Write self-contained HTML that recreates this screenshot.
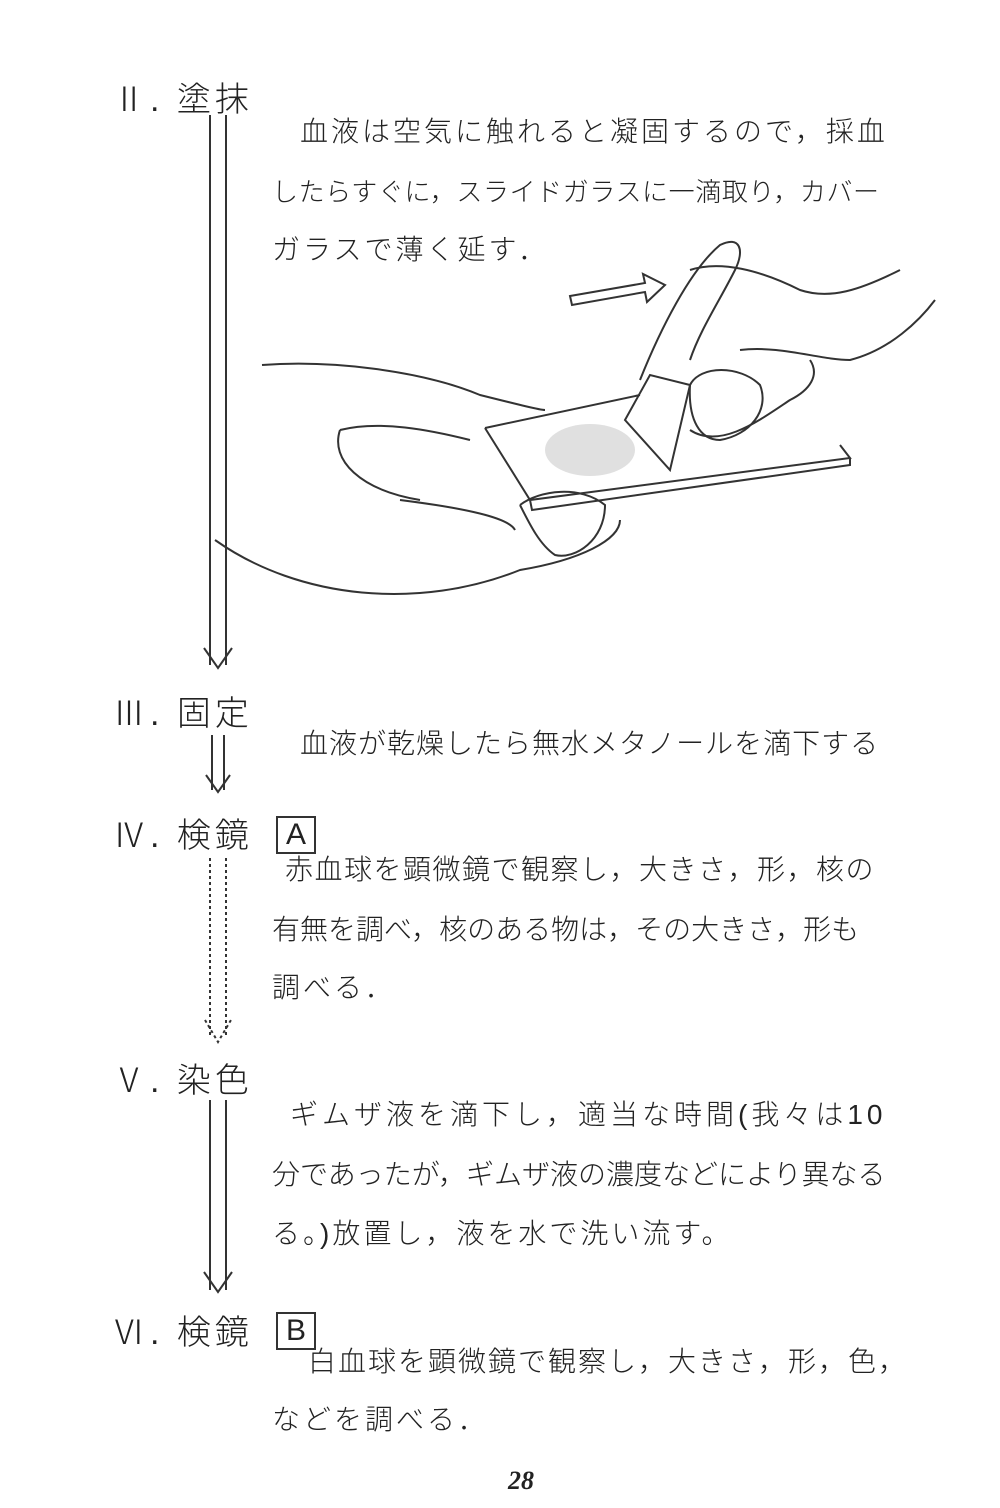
<!DOCTYPE html>
<html><head><meta charset="utf-8"><style>
body{margin:0;background:#fff;}
#p{position:relative;width:1000px;height:1508px;background:#fff;overflow:hidden;font-family:"Liberation Sans","Noto Sans CJK JP",sans-serif;color:#222;}
.t{position:absolute;white-space:nowrap;font-size:28px;font-weight:300;}
.h{position:absolute;white-space:nowrap;font-size:34px;font-weight:300;letter-spacing:4px;}
</style></head><body><div id="p">
<div class="h" style="left:112px;top:72px">Ⅱ. 塗抹</div>
<div class="t" style="left:300px;top:110px;letter-spacing:3px">血液は空気に触れると凝固するので，採血</div>
<div class="t" style="left:272px;top:172px;font-size:26px;letter-spacing:0.6px">したらすぐに，スライドガラスに一滴取り，カバー</div>
<div class="t" style="left:272px;top:228px;letter-spacing:3px">ガラスで薄く延す．</div>

<div class="h" style="left:112px;top:686px">Ⅲ. 固定</div>
<div class="t" style="left:300px;top:722px;letter-spacing:1px">血液が乾燥したら無水メタノールを滴下する</div>

<div class="h" style="left:112px;top:808px">Ⅳ. 検鏡</div>
<div style="position:absolute;left:276px;top:816px;width:36px;height:34px;border:2px solid #333;font-size:30px;line-height:34px;text-align:center">A</div>
<div class="t" style="left:285px;top:848px;letter-spacing:1.5px">赤血球を顕微鏡で観察し，大きさ，形，核の</div>
<div class="t" style="left:272px;top:908px;letter-spacing:0px">有無を調べ，核のある物は，その大きさ，形も</div>
<div class="t" style="left:272px;top:966px;letter-spacing:3px">調べる．</div>

<div class="h" style="left:112px;top:1053px">Ⅴ. 染色</div>
<div class="t" style="left:290px;top:1093px;letter-spacing:4px">ギムザ液を滴下し，適当な時間(我々は10</div>
<div class="t" style="left:272px;top:1153px;letter-spacing:0px">分であったが，ギムザ液の濃度などにより異なる</div>
<div class="t" style="left:272px;top:1212px;letter-spacing:3px">る。)放置し，液を水で洗い流す。</div>

<div class="h" style="left:112px;top:1305px">Ⅵ. 検鏡</div>
<div style="position:absolute;left:276px;top:1312px;width:36px;height:34px;border:2px solid #333;font-size:30px;line-height:34px;text-align:center">B</div>
<div class="t" style="left:308px;top:1340px;letter-spacing:2px">白血球を顕微鏡で観察し，大きさ，形，色，</div>
<div class="t" style="left:272px;top:1398px;letter-spacing:3px">などを調べる．</div>

<div style="position:absolute;left:508px;top:1466px;font-size:26px;font-weight:bold;font-style:italic;font-family:'Liberation Serif',serif">28</div>

<svg width="1000" height="1508" style="position:absolute;left:0;top:0" fill="none" stroke="#333" stroke-width="2">
<line x1="210" y1="115" x2="210" y2="665"/><line x1="226" y1="115" x2="226" y2="665"/>
<path d="M204 648 L218 668 L232 648"/>
<line x1="212" y1="735" x2="212" y2="790"/><line x1="224" y1="735" x2="224" y2="790"/>
<path d="M206 775 L218 792 L230 775"/>
<g stroke-dasharray="3,3"><line x1="210" y1="858" x2="210" y2="1038"/><line x1="226" y1="858" x2="226" y2="1038"/>
<path d="M205 1020 L218 1042 L231 1020"/></g>
<line x1="210" y1="1100" x2="210" y2="1290"/><line x1="226" y1="1100" x2="226" y2="1290"/>
<path d="M204 1272 L218 1292 L232 1272"/>
<path d="M570 296 L645 283 L643 274 L665 285 L647 302 L645 292 L572 305 Z"/>
<path d="M262 365 C330 360 420 370 480 395 C520 405 540 410 545 410"/>
<path d="M485 428 L640 395 M485 428 L530 500 L850 458 L840 445 M530 500 L532 510 L850 465 L850 458"/>
<path d="M340 430 C380 420 430 430 470 440 M340 430 C330 460 360 490 420 500 M400 500 C480 510 510 520 515 530"/>
<path d="M520 505 C540 490 580 485 605 505 C605 540 575 560 555 555 C540 545 530 525 520 505"/>
<path d="M215 540 C300 600 420 610 520 570 C580 560 620 540 620 520"/>
<path d="M640 380 C660 330 690 270 720 245 C740 235 745 250 735 270 C720 300 700 330 690 360"/>
<path d="M690 270 C720 260 760 270 800 290 C830 300 860 290 900 270"/>
<path d="M740 350 C780 345 820 360 850 360 C890 350 920 320 935 300"/>
<path d="M625 420 L650 375 L690 385 L670 470 Z"/>
<path d="M690 385 C700 365 740 365 760 385 C770 410 750 435 720 440 C700 440 688 420 690 385"/>
<path d="M690 430 C720 450 760 420 790 400 C810 390 820 375 810 360"/>
</svg>
<svg width="1000" height="1508" style="position:absolute;left:0;top:0">
<ellipse cx="590" cy="450" rx="45" ry="26" fill="#999" opacity="0.3"/>
</svg>
</div></body></html>
